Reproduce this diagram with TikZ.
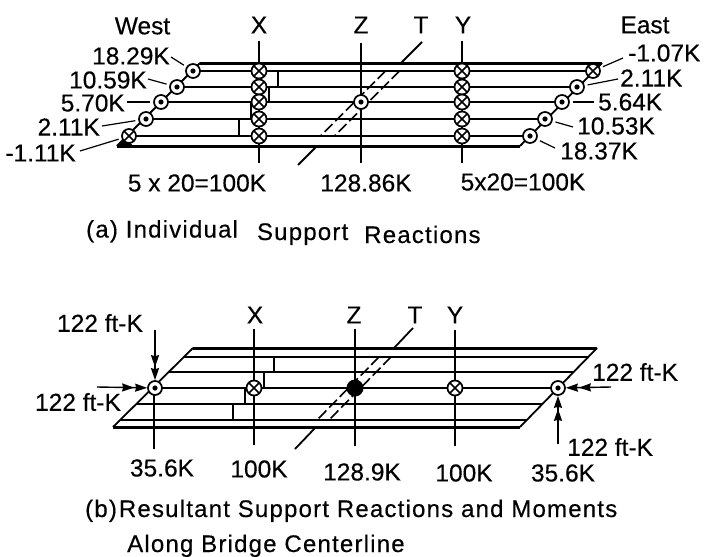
\documentclass[tikz,border=0pt]{standalone}
\usepackage{fontspec}
\setmainfont{Liberation Sans}[FakeBold=0.35]
\newfontfamily\capfont{Liberation Sans}[LetterSpace=5,FakeBold=0.35]
\usetikzlibrary{arrows.meta}
\tikzset{
  x=1pt,y=-1pt,
  beam/.style={line width=1.8pt},
  chord/.style={line width=3pt},
  vline/.style={line width=1.6pt},
  lead/.style={line width=1.2pt,shorten >=3pt},
  dashl/.style={line width=1.6pt,dash pattern=on 11pt off 4pt},
  dia/.style={line width=1.7pt},
  xsup/.style={circle,draw,fill=white,line width=1.7pt,minimum size=#1,inner sep=0pt,
    path picture={\draw[line width=1.5pt] (path picture bounding box.north west)--(path picture bounding box.south east)
      (path picture bounding box.north east)--(path picture bounding box.south west);}},
  xsup/.default=15pt,
  dsup/.style={circle,draw,fill=white,line width=1.7pt,minimum size=14pt,inner sep=0pt,
    path picture={\fill[black] (path picture bounding box.center) circle (2.6pt);}},
  bsup/.style={circle,fill=black,minimum size=17pt,inner sep=0pt},
  lab/.style={font=\fontsize{24.5}{24.5}\selectfont,inner sep=0pt},
  captxt/.style={font=\capfont\fontsize{24}{24}\selectfont,inner sep=0pt,anchor=base west},
  pusharrow/.style={line width=1.4pt,-{Stealth[length=12pt,width=8pt,inset=1pt,sep=1pt]Stealth[length=12pt,width=8pt,inset=1pt]}},
}
\begin{document}
\begin{tikzpicture}
\useasboundingbox (0,0) rectangle (707,557);
\fill[white] (0,0) rectangle (707,557);
% ---------- diagram (a)
\coordinate (tl) at (200,63); \coordinate (tr) at (602,63);
\coordinate (bl) at (117,146); \coordinate (br) at (520,146);
\draw[chord] (tl)--(tr) (bl)--(br);
\draw[beam] (bl)--(tl) (br)--(tr);
\fill (117,147)--(126,138)--(134,147)--cycle;
% T line
\coordinate (t1) at (422,42); \coordinate (t2) at (401,63); \coordinate (t3) at (317,146); \coordinate (t4) at (298,165);
\draw[beam] (t1)--(t2) (t3)--(t4);
\draw[dashl] (385.5,71)--(320.5,136);
\draw[dashl] (399.5,71)--(334.5,136);
% columns
\coordinate (xa) at (259,41); \coordinate (xb) at (259,163);
\coordinate (za) at (361,43); \coordinate (zb) at (361,163);
\coordinate (ya) at (462,41); \coordinate (yb) at (462,163);
\draw[vline] (xa)--(xb) (za)--(zb) (ya)--(yb);
% supports
\foreach \n/\xl/\xr/\y in {1/193/593/71,2/177/577/87,3/161/562/102,4/146/545/119,5/129/530/136}{
  \coordinate (L\n) at (\xl,\y); \coordinate (R\n) at (\xr,\y);
  \draw[beam] (L\n)--(R\n);
}
\draw[dia] (278,71)--(278,87) (239,119)--(239,136) (269,87)--(269,102) (251,102)--(251,119);
\foreach \n/\y in {1/71,2/87,3/102,4/119,5/136}{
  \node[xsup] (X\n) at (259,\y) {};
  \node[xsup] (Y\n) at (462,\y) {};
}
\node[dsup] (Zc) at (361,102) {};
\node[dsup] (A1) at (L1) {}; \node[dsup] (A2) at (L2) {}; \node[dsup] (A3) at (L3) {}; \node[dsup] (A4) at (L4) {};
\node[xsup=14pt] (A5) at (L5) {};
\node[xsup=14pt] (B1) at (R1) {};
\node[dsup] (B2) at (R2) {}; \node[dsup] (B3) at (R3) {}; \node[dsup] (B4) at (R4) {}; \node[dsup] (B5) at (R5) {};
% labels (a)
\node[lab] (west) at (142.5,26) {West};
\node[lab] (lx) at (259,25) {X};
\node[lab] (lz) at (361,25) {Z};
\node[lab] (lt) at (421,25) {T};
\node[lab] (ly) at (463,25) {Y};
\node[lab] (east) at (645,25) {East};
\node[lab,anchor=east] (l1) at (170,56) {18.29K};
\node[lab,anchor=east] (l2) at (147,80) {10.59K};
\node[lab,anchor=east] (l3) at (125,103) {5.70K};
\node[lab,anchor=east] (l4) at (100,127) {2.11K};
\node[lab,anchor=east] (l5) at (76,153) {-1.11K};
\node[lab,anchor=west] (r1) at (628,53) {-1.07K};
\node[lab,anchor=west] (r2) at (620,78) {2.11K};
\node[lab,anchor=west] (r3) at (598,102) {5.64K};
\node[lab,anchor=west] (r4) at (577,126) {10.53K};
\node[lab,anchor=west] (r5) at (560,151) {18.37K};
\draw[lead] ([shift={(1,1)}]l1.east) -- (A1);
\draw[lead] ([shift={(1,-1)}]l2.east) -- (A2);
\draw[lead] ([shift={(2,-1)}]l3.east) -- (A3);
\draw[lead] ([shift={(2,-1)}]l4.east) -- (A4);
\draw[lead] ([shift={(4,-2)}]l5.east) -- (A5);
\draw[lead] ([shift={(-5,5)}]r1.west) -- (B1);
\draw[lead] ([shift={(-2,1)}]r2.west) -- (B2);
\draw[lead] ([shift={(-4,0)}]r3.west) -- (B3);
\draw[lead] ([shift={(-4,1)}]r4.west) -- (B4);
\draw[lead] ([shift={(-5,-3)}]r5.west) -- (B5);
\node[lab] (s1) at (197,183) {5 x 20=100K};
\node[lab] (s2) at (366,183) {128.86K};
\node[lab] (s3) at (523,182) {5x20=100K};
\node[captxt] (capa) at (86,240) {\raisebox{2.5pt}{(a) Individual}\hspace{19pt}Support\hspace{16pt}\raisebox{-3pt}{Reactions}};
% ---------- diagram (b)
\coordinate (ptl) at (193,348); \coordinate (ptr) at (597,348);
\coordinate (pbl) at (113,427); \coordinate (pbr) at (520,427);
\draw[chord] (ptl)--(ptr) (pbl)--(pbr);
\draw[beam] (pbl)--(ptl) (pbr)--(ptr);
\foreach \n/\xl/\xr/\y in {1/184/588/357,2/169/574/372,3/153/559/388,4/136/542/404,5/120/527/420}{
  \coordinate (PL\n) at (\xl,\y); \coordinate (PR\n) at (\xr,\y);
  \draw[beam] (PL\n)--(PR\n);
}
\draw[dia] (274,357)--(274,372) (233,404)--(233,420) (264,372)--(264,388) (245,388)--(245,404);
% T line
\coordinate (pt1) at (413,328); \coordinate (pt2) at (394,348); \coordinate (pt3) at (316,427); \coordinate (pt4) at (295,449);
\draw[beam] (pt1)--(pt2) (pt3)--(pt4);
\draw[dashl] (379,357)--(317,420);
\draw[dashl] (391,357)--(329,420);
% columns
\coordinate (pxa) at (254,329); \coordinate (pxb) at (254,445);
\coordinate (pza) at (355,329); \coordinate (pzb) at (355,446);
\coordinate (pya) at (455,330); \coordinate (pyb) at (455,446);
\coordinate (pla) at (154,394); \coordinate (plb) at (154,449);
\draw[vline] (pxa)--(pxb) (pza)--(pzb) (pya)--(pyb) (pla)--(plb);
\node[xsup] (PX) at (254,388) {};
\node[xsup] (PY) at (455,388) {};
\node[bsup] (PZ) at (355,388) {};
\node[dsup] (PA) at (155,388) {};
\node[dsup] (PB) at (558,388) {};
% moment arrows
\coordinate (ma) at (155,330); \coordinate (mb) at (97,387);
\coordinate (mc) at (611,387); \coordinate (md) at (558,444);
\draw[pusharrow] (ma)--(PA);
\draw[pusharrow] (mb)--(PA);
\draw[pusharrow] (mc)--(PB);
\draw[pusharrow] (md)--(PB);
% labels (b)
\node[lab] (plx) at (255,315) {X};
\node[lab] (plz) at (354,315) {Z};
\node[lab] (plt) at (415,315) {T};
\node[lab] (ply) at (455,315) {Y};
\node[lab] (m1) at (100,323) {122 ft-K};
\node[lab] (m2) at (78,402) {122 ft-K};
\node[lab,anchor=west] (m3) at (592,372) {122 ft-K};
\node[lab,anchor=west] (m4) at (567,447) {122 ft-K};
\node[lab] (v1) at (162,468) {35.6K};
\node[lab] (v2) at (259,469) {100K};
\node[lab] (v3) at (362,472) {128.9K};
\node[lab] (v4) at (464,473) {100K};
\node[lab] (v5) at (563,473) {35.6K};
\node[captxt] (capb) at (85,517) {(b)\hspace{2pt}Resultant Support Reactions and Moments};
\node[captxt] (capc) at (127,552) {Along Bridge Centerline};
\end{tikzpicture}
\end{document}
